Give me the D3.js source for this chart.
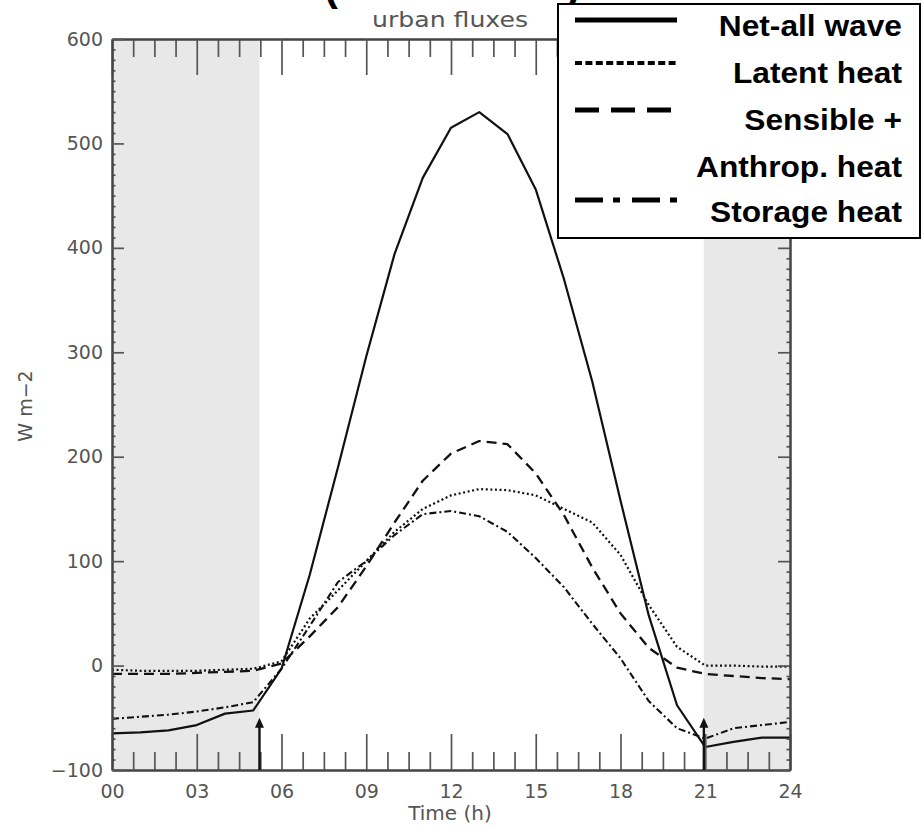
<!DOCTYPE html>
<html><head><meta charset="utf-8">
<script src="https://cdn.jsdelivr.net/npm/d3@7"></script>
<style>body{margin:0;background:#fff}</style>
</head><body>
<svg id="c" width="923" height="827"></svg>
<script>
// ---- data ----
const hours = [0,1,2,3,4,5,6,7,8,9,10,11,12,13,14,15,16,17,18,19,20,21,22,23,24];
const netAllWave = [-65,-64,-62,-57,-46,-43,-3,87,190,296,394,467,515,530,509,456,370,272,158,48,-38,-78,-73,-69,-69];
const latentHeat = [-4,-5,-5,-5,-4,-3,4,45,72,100,128,150,163,169,168,163,150,137,106,58,18,0,0,-1,-1];
const sensibleAnthropHeat = [-8,-8,-8,-7,-6,-5,2,28,56,95,137,177,203,215,212,184,144,94,50,17,-2,-8,-10,-12,-13];
const storageHeat = [-51,-49,-47,-44,-40,-35,-3,38,80,100,125,145,148,143,128,103,75,40,7,-34,-60,-70,-60,-57,-54];
const xMajorTicks = [0,3,6,9,12,15,18,21,24];
const xTickLabels = ["00","03","06","09","12","15","18","21","24"];
const yMajorTicks = [-100,0,100,200,300,400,500,600];
const nightPeriods = [[0,5.22],[20.95,24]];
const arrowTimes = [5.22,20.95];
const arrowTipValue = -50;
const seriesNames = ["Net-all wave","Latent heat","Sensible +\nAnthrop. heat","Storage heat"];
const titleText = "urban fluxes";
const xLabel = "Time (h)";
const yLabel = "W m\u22122";

// ---- scales ----
const svg = d3.select("#c");
const x = d3.scaleLinear().domain([0,24]).range([112,790]);
const y = d3.scaleLinear().domain([-100,600]).range([770,39]);
const FONT = "'DejaVu Sans', sans-serif";
const GREY = "#555";

// cut-off title parentheses at very top
svg.append("text").attr("x",324).attr("y",0).attr("font-family","'Liberation Sans',Arial").attr("font-weight","bold").attr("font-size",42).attr("fill","#000").text("(");
svg.append("text").attr("x",566).attr("y",0).attr("font-family","'Liberation Sans',Arial").attr("font-weight","bold").attr("font-size",42).attr("fill","#000").text(")");

// night shading
svg.selectAll("rect.night").data(nightPeriods).enter().append("rect")
  .attr("class","night")
  .attr("x",d=>x(d[0])).attr("width",d=>x(d[1])-x(d[0]))
  .attr("y",y(600)).attr("height",y(-100)-y(600))
  .attr("fill","#e8e8e8");

// lines
const styles = [
  {data:netAllWave, dash:null, w:2.2},
  {data:latentHeat, dash:"2,2.6", w:2.2},
  {data:sensibleAnthropHeat, dash:"10,6", w:2.3},
  {data:storageHeat, dash:"7,3,2,3", w:2.1}
];
const line = d3.line().x((d,i)=>x(hours[i])).y(d=>y(d));
styles.forEach(s=>{
  svg.append("path").attr("d",line(s.data)).attr("fill","none")
    .attr("stroke","#111").attr("stroke-width",s.w)
    .attr("stroke-dasharray",s.dash).attr("stroke-linejoin","round");
});

// axes
const xMinor = d3.range(0,24.001,0.75).filter(v=>Math.abs(v/3-Math.round(v/3))>1e-6);
const yMinor = d3.range(-100,600.001,10).filter(v=>v%100!==0);
function styleAxis(g){
  g.select(".domain").attr("stroke","#444").attr("stroke-width",2);
  g.selectAll(".tick line").attr("stroke",GREY).attr("stroke-width",1.7);
  g.selectAll(".tick text").attr("font-family",FONT).attr("font-size",19).attr("fill",GREY);
}
svg.append("g").attr("transform",`translate(0,${y(-100)})`)
  .call(d3.axisBottom(x).tickValues(xMinor).tickSize(-18).tickSizeOuter(0).tickFormat("")).call(styleAxis);
svg.append("g").attr("transform",`translate(0,${y(-100)})`)
  .call(d3.axisBottom(x).tickValues(xMajorTicks).tickSize(-36).tickSizeOuter(0).tickPadding(15)
    .tickFormat((d,i)=>xTickLabels[i])).call(styleAxis);
svg.append("g").attr("transform",`translate(0,${y(600)})`)
  .call(d3.axisTop(x).tickValues(xMinor).tickSize(-18).tickSizeOuter(0).tickFormat("")).call(styleAxis);
svg.append("g").attr("transform",`translate(0,${y(600)})`)
  .call(d3.axisTop(x).tickValues(xMajorTicks).tickSize(-36).tickSizeOuter(0).tickFormat("")).call(styleAxis);
svg.append("g").attr("transform",`translate(${x(0)},0)`)
  .call(d3.axisLeft(y).tickValues(yMinor).tickSize(-3.5).tickSizeOuter(0).tickFormat("")).call(styleAxis);
svg.append("g").attr("transform",`translate(${x(0)},0)`)
  .call(d3.axisLeft(y).tickValues(yMajorTicks).tickSize(-12).tickSizeOuter(0).tickPadding(9)
    .tickFormat(d=>d<0?"\u2212"+Math.abs(d):String(d))).call(styleAxis);
svg.append("g").attr("transform",`translate(${x(24)},0)`)
  .call(d3.axisRight(y).tickValues(yMinor).tickSize(-3.5).tickSizeOuter(0).tickFormat("")).call(styleAxis);
svg.append("g").attr("transform",`translate(${x(24)},0)`)
  .call(d3.axisRight(y).tickValues(yMajorTicks).tickSize(-12).tickSizeOuter(0).tickFormat("")).call(styleAxis);

// axis titles
svg.append("text").attr("x",450).attr("y",820).attr("text-anchor","middle")
  .attr("font-family",FONT).attr("font-size",20).attr("fill",GREY).text(xLabel);
svg.append("text").attr("transform","translate(32,406) rotate(-90)").attr("text-anchor","middle")
  .attr("font-family",FONT).attr("font-size",19).attr("fill",GREY).text(yLabel);
svg.append("text").attr("x",450).attr("y",27).attr("text-anchor","middle")
  .attr("font-family",FONT).attr("font-size",22).attr("fill",GREY)
  .attr("textLength",156).attr("lengthAdjust","spacingAndGlyphs").text(titleText);

// arrows (sunrise / sunset)
arrowTimes.forEach(t=>{
  const tip = y(arrowTipValue);
  svg.append("line").attr("x1",x(t)).attr("x2",x(t)).attr("y1",y(-100)).attr("y2",tip+6)
    .attr("stroke","#111").attr("stroke-width",2.4);
  svg.append("path").attr("d",`M${x(t)},${tip} L${x(t)-4.5},${tip+10} L${x(t)+4.5},${tip+10} Z`).attr("fill","#111");
});

// legend
const lg = svg.append("g");
lg.append("rect").attr("x",558).attr("y",4).attr("width",362).attr("height",234)
  .attr("fill","#fff").attr("stroke","#000").attr("stroke-width",2);
const legSamples = [
  {y:20, dash:null},
  {y:63, dash:"7,3.4"},
  {y:110, dash:"24,12"},
  {y:200, dash:"28,10,7,12"}
];
legSamples.forEach(s=>{
  lg.append("line").attr("x1",575).attr("x2",677).attr("y1",s.y).attr("y2",s.y)
    .attr("stroke","#000").attr("stroke-width",s.dash==="7,3.4"?4:5).attr("stroke-dasharray",s.dash);
});
const legTextRows = [[seriesNames[0],36],[seriesNames[1],83],[seriesNames[2].split("\n")[0],130],[seriesNames[2].split("\n")[1],177],[seriesNames[3],222]];
legTextRows.forEach(r=>{
  lg.append("text").attr("transform",`translate(902,${r[1]}) scale(1.075,1)`).attr("text-anchor","end")
    .attr("font-family","'Liberation Sans',Arial,sans-serif").attr("font-weight","bold")
    .attr("font-size",29.5).attr("fill","#000").text(r[0]);
});
</script>
</body></html>
